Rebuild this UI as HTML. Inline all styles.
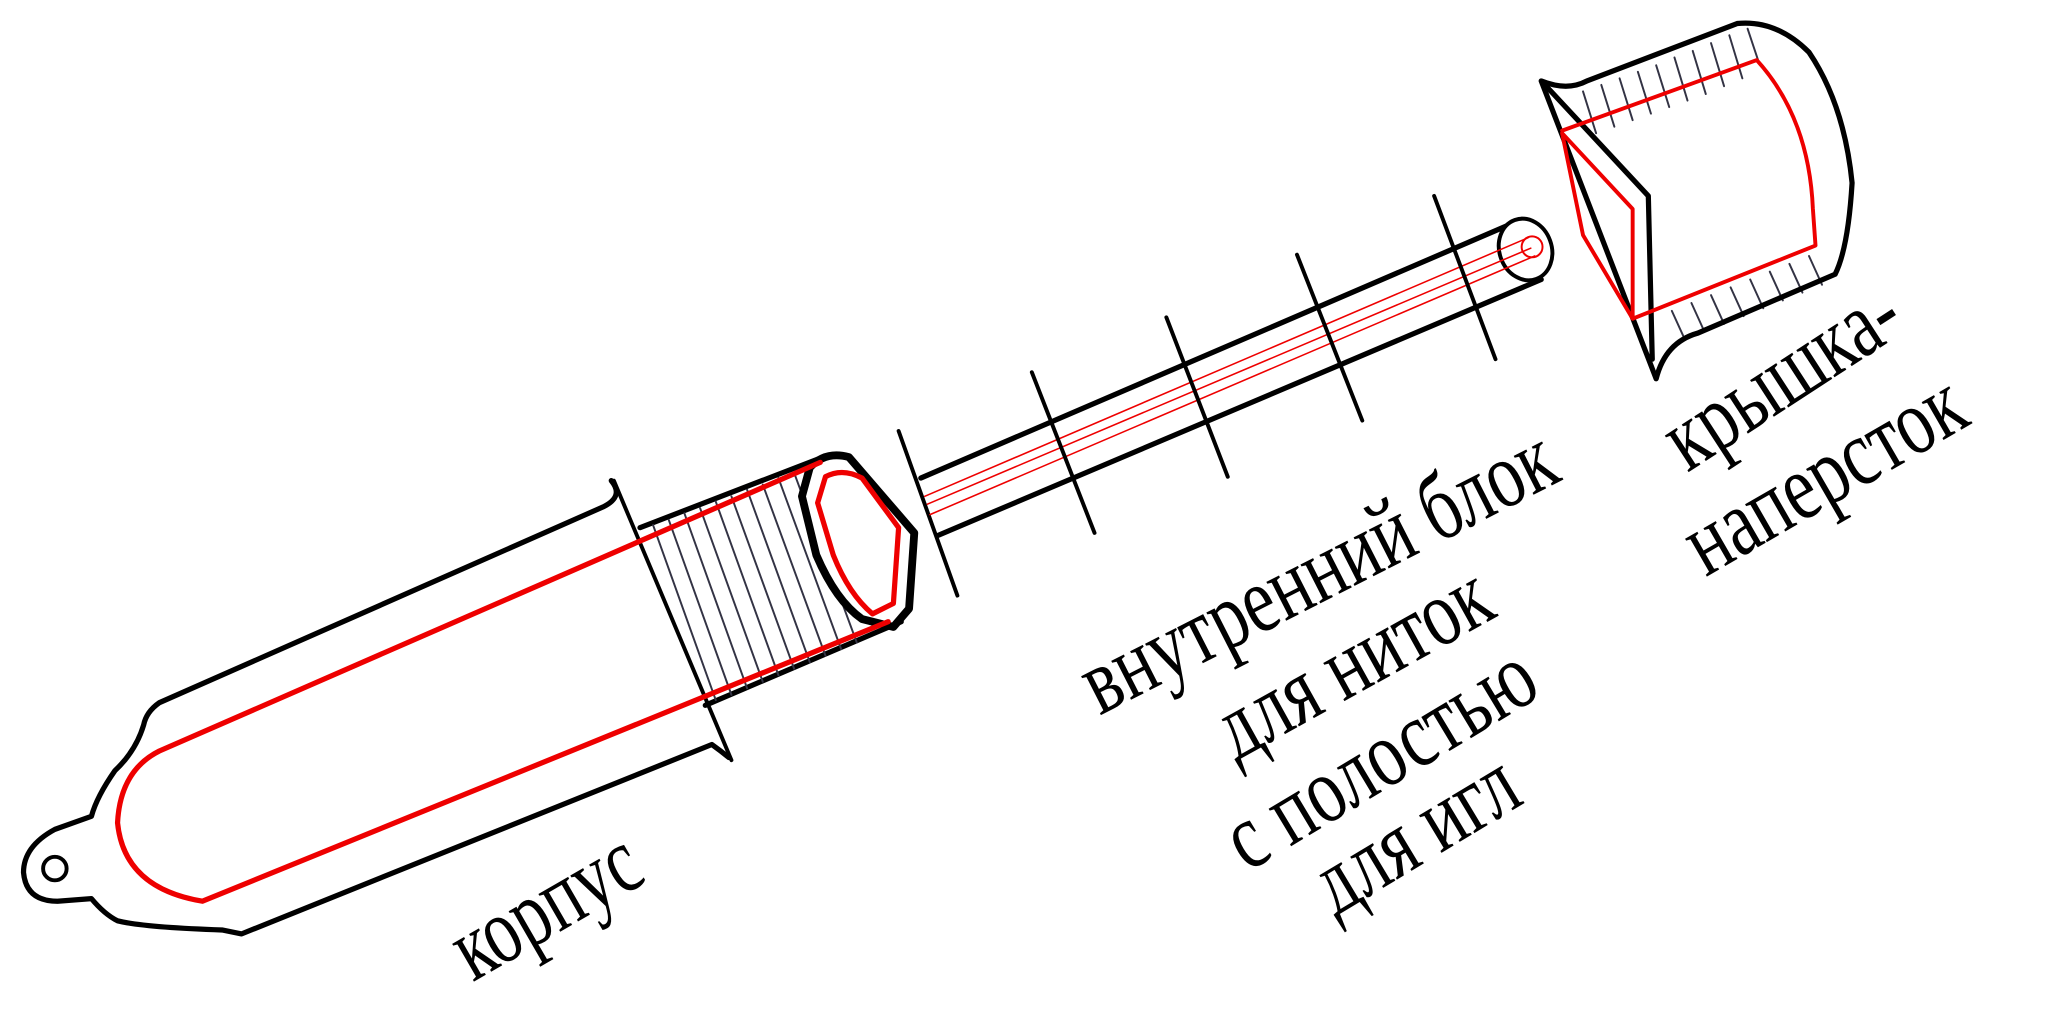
<!DOCTYPE html>
<html><head><meta charset="utf-8"><style>
html,body{margin:0;padding:0;background:#fff;}
svg{display:block}
text{font-family:"Liberation Serif",serif;font-size:56px;fill:#000}
</style></head><body>
<svg width="2048" height="1024" viewBox="0 0 1568 784" xmlns="http://www.w3.org/2000/svg">
<g fill="none" stroke-linejoin="round" stroke-linecap="round">
<path d="M468,368 Q478,380 462,388 L122,538 Q112,545 110,555 Q104,575 88,590 Q74,610 70,625 L42,635 Q18,648 18,668 Q20,690 44,690 L70,688 Q80,700 90,705 Q110,710 170,712 L185,715 L545,570 Q552,575 558,580" stroke="#000" stroke-width="4"/>
<circle cx="42" cy="665" r="9" stroke="#000" stroke-width="3"/>
<line x1="470" y1="368" x2="560" y2="582" stroke="#000" stroke-width="3"/>
<line x1="490" y1="404" x2="630" y2="350" stroke="#000" stroke-width="4"/>
<line x1="540" y1="540" x2="690" y2="476" stroke="#000" stroke-width="4"/>
<g stroke="#334" stroke-width="1.5">
<line x1="500" y1="402" x2="548" y2="536"/><line x1="512" y1="398" x2="560" y2="532"/>
<line x1="524" y1="393" x2="572" y2="527"/><line x1="536" y1="389" x2="584" y2="522"/>
<line x1="548" y1="384" x2="596" y2="517"/><line x1="560" y1="380" x2="608" y2="512"/>
<line x1="572" y1="375" x2="620" y2="507"/><line x1="584" y1="371" x2="632" y2="502"/>
<line x1="596" y1="366" x2="644" y2="497"/><line x1="608" y1="362" x2="656" y2="492"/>
</g>
<path d="M620,358 Q632,345 650,350 L700,408 L696,466 L684,480 L660,474 Q640,460 625,425 L614,380 Z" stroke="#000" stroke-width="6" fill="#fff"/>
<path d="M632,365 Q645,358 660,366 L688,404 L684,462 L668,470 Q650,455 638,425 L626,385 Z" stroke="#e00" stroke-width="4"/>
<path d="M628,354 L122,575 Q92,590 90,630 Q95,680 155,690 L680,476" stroke="#e00" stroke-width="4"/>
<line x1="688" y1="330" x2="733" y2="456" stroke="#000" stroke-width="3"/>
<line x1="705" y1="366" x2="1165" y2="168" stroke="#000" stroke-width="4"/>
<line x1="718" y1="410" x2="1180" y2="214" stroke="#000" stroke-width="4"/>
<ellipse cx="1168" cy="191" rx="20" ry="24" transform="rotate(-20 1168 191)" stroke="#000" stroke-width="3" fill="#fff"/>
<circle cx="1173" cy="189" r="8" stroke="#e00" stroke-width="1.5"/>
<g stroke="#e00" stroke-width="1.2">
<line x1="708" y1="380" x2="1170" y2="182"/><line x1="710" y1="386" x2="1172" y2="190"/>
<line x1="712" y1="394" x2="1175" y2="196"/>
</g>
<g stroke="#000" stroke-width="3">
<line x1="790" y1="285" x2="838" y2="408"/><line x1="893" y1="243" x2="940" y2="365"/>
<line x1="993" y1="195" x2="1043" y2="322"/><line x1="1098" y1="150" x2="1145" y2="275"/>
</g>
<g stroke="#334" stroke-width="1.5">
<line x1="1212" y1="70" x2="1222" y2="102"/><line x1="1226" y1="65" x2="1236" y2="97"/>
<line x1="1240" y1="60" x2="1250" y2="92"/><line x1="1254" y1="55" x2="1264" y2="87"/>
<line x1="1268" y1="50" x2="1278" y2="82"/><line x1="1282" y1="44" x2="1292" y2="77"/>
<line x1="1296" y1="39" x2="1306" y2="72"/><line x1="1310" y1="33" x2="1320" y2="66"/>
<line x1="1324" y1="27" x2="1334" y2="60"/><line x1="1338" y1="22" x2="1346" y2="46"/>
<line x1="1280" y1="238" x2="1290" y2="260"/><line x1="1295" y1="232" x2="1305" y2="254"/>
<line x1="1310" y1="226" x2="1320" y2="248"/><line x1="1325" y1="220" x2="1335" y2="242"/>
<line x1="1340" y1="214" x2="1350" y2="236"/><line x1="1355" y1="208" x2="1365" y2="230"/>
<line x1="1370" y1="202" x2="1380" y2="224"/><line x1="1385" y1="196" x2="1395" y2="218"/>
</g>
<path d="M1180,62 Q1200,70 1215,62 L1330,18 Q1360,15 1385,40 Q1412,80 1418,140 Q1415,190 1405,210 L1300,255 Q1275,262 1268,290 L1180,62 Z" stroke="#000" stroke-width="4"/>
<path d="M1182,64 L1262,150 L1265,275" stroke="#000" stroke-width="4"/>
<path d="M1196,100 L1345,46 Q1385,90 1388,160 L1390,188 L1250,244" stroke="#e00" stroke-width="3"/>
<path d="M1196,102 L1250,160 L1250,244 L1212,180 Z" stroke="#e00" stroke-width="3"/>
</g>
<text transform="translate(362,752) rotate(-30) scale(0.95,1.3)">корпус</text>
<text transform="translate(842,548) rotate(-27) scale(0.98,1.3)">внутренний блок</text>
<text transform="translate(946,583) rotate(-29) scale(0.98,1.3)">для ниток</text>
<text transform="translate(955,668) rotate(-31) scale(0.98,1.3)">с полостью</text>
<text transform="translate(1022,702) rotate(-31) scale(0.98,1.3)">для игл</text>
<text transform="translate(1292,362) rotate(-33) scale(0.98,1.3)">крышка-</text>
<text transform="translate(1306,442) rotate(-30) scale(0.98,1.3)">наперсток</text>
</svg>
</body></html>
